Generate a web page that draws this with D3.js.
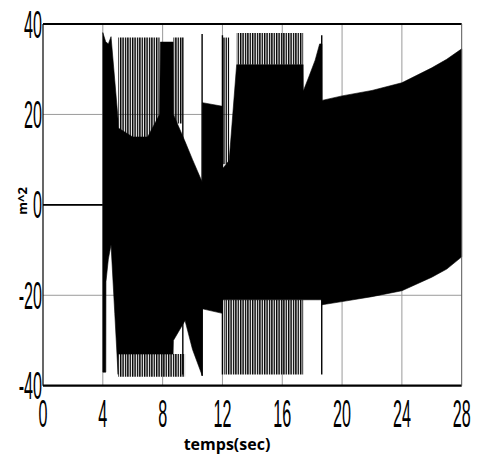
<!DOCTYPE html>
<html>
<head>
<meta charset="utf-8">
<script src="https://cdn.jsdelivr.net/npm/d3@7"></script>
<style>
  body { margin: 0; background: #fff; }
  svg { display: block; }
</style>
</head>
<body>
<svg id="chart" width="477" height="459"></svg>
<script>
// ticks
var xTicks = [0, 4, 8, 12, 16, 20, 24, 28];
var yTicks = [-40, -20, 0, 20, 40];

// signal before the start (flat at zero)
var flatT = [0, 4];
var flatV = [0, 0];

// dense oscillation envelope: time, top, bottom
var bodyT   = [4.00, 4.20, 4.21, 4.37, 4.55, 4.80, 5.02, 5.03, 6.00, 7.00, 7.80, 7.85, 8.70, 8.72, 9.50, 10.00, 10.65, 10.66, 12.00, 12.01, 12.45, 12.95, 17.40, 17.41, 17.80, 18.20, 18.50, 18.65, 18.66, 20.0, 22.0, 24.0, 26.0, 27.0, 28.0];
var bodyTop = [38.1, 36.0, 36.0, 35.6, 37.2, 27.5, 19.0, 17.0, 15.0, 15.0, 20.0, 36.0, 36.0, 20.0, 14.0, 10.0, 5.0, 22.6, 21.8, 8.0, 9.8, 31.0, 31.0, 25.2, 28.5, 32.0, 35.6, 35.6, 23.1, 24.1, 25.3, 27.0, 30.3, 32.2, 34.5];
var bodyBot = [-37.0, -37.0, -17.0, -12.0, -8.8, -24.0, -37.5, -33.0, -33.0, -33.0, -33.0, -33.0, -33.0, -30.0, -25.6, -32.0, -37.8, -23.0, -24.0, -21.0, -21.0, -21.0, -21.0, -21.0, -21.0, -21.0, -21.0, -21.0, -22.1, -21.4, -20.3, -19.0, -16.0, -14.2, -11.5];

// zones of thin spikes: start, end, base, tip
var zoneStart = [5.03, 8.72, 5.03, 12.05, 12.95, 12.10];
var zoneEnd   = [7.80, 9.30, 9.50, 12.45, 17.40, 17.40];
var zoneBase  = [15.0, 18.0, -33.0, 9.0, 31.0, -21.0];
var zoneTip   = [37.0, 37.0, -38.0, 37.0, 38.0, -37.5];

// single tall spikes: time, low, high
var spikeT  = [9.35, 10.64, 12.00, 18.64];
var spikeLo = [-37.5, -37.8, -37.5, -37.5];
var spikeHi = [37.0, 37.8, 37.5, 37.5];

var svg = d3.select('#chart');
var pL = 43, pR = 461.7, pT = 24, pB = 385.7;

var x = d3.scaleLinear().domain([0, 28]).range([pL, pR]);
var y = d3.scaleLinear().domain([-40, 40]).range([pB, pT]);

// stripe pattern for the spiky parts
var defs = svg.append('defs');
defs.append('pattern')
  .attr('id', 'spk')
  .attr('patternUnits', 'userSpaceOnUse')
  .attr('width', 2.4).attr('height', 10)
  .append('rect')
    .attr('x', 0).attr('y', 0)
    .attr('width', 1.4).attr('height', 10)
    .attr('fill', '#000');

//grid
svg.append('g').selectAll('line')
  .data(xTicks.slice(1, -1))
  .enter().append('line')
    .attr('x1', function(d){ return x(d); })
    .attr('x2', function(d){ return x(d); })
    .attr('y1', pT).attr('y2', pB)
    .attr('stroke', '#9a9a9a').attr('stroke-width', 1);

svg.append('g').selectAll('line')
  .data(yTicks.slice(1, -1))
  .enter().append('line')
    .attr('x1', pL).attr('x2', pR)
    .attr('y1', function(d){ return y(d); })
    .attr('y2', function(d){ return y(d); })
    .attr('stroke', '#9a9a9a').attr('stroke-width', 1);

// data
var body = bodyT.map(function(t, i){ return {t: t, top: bodyTop[i], bot: bodyBot[i]}; });
var area = d3.area()
  .x(function(d){ return x(d.t); })
  .y0(function(d){ return y(d.bot); })
  .y1(function(d){ return y(d.top); });

var zones = zoneStart.map(function(s, i){
  return [{t: s, top: zoneTip[i], bot: zoneBase[i]}, {t: zoneEnd[i], top: zoneTip[i], bot: zoneBase[i]}];
});
svg.append('g').selectAll('path')
  .data(zones)
  .enter().append('path')
    .attr('d', area)
    .attr('fill', 'url(#spk)');

svg.append('path')
  .datum(body)
  .attr('d', area)
  .attr('fill', '#000')
  .attr('stroke', '#000')
  .attr('stroke-width', 0.6);

svg.append('g').selectAll('line')
  .data(spikeT)
  .enter().append('line')
    .attr('x1', function(d){ return x(d); })
    .attr('x2', function(d){ return x(d); })
    .attr('y1', function(d, i){ return y(spikeLo[i]); })
    .attr('y2', function(d, i){ return y(spikeHi[i]); })
    .attr('stroke', '#000').attr('stroke-width', 1.4);

svg.append('path')
  .datum(flatT.map(function(t, i){ return [t, flatV[i]]; }))
  .attr('d', d3.line().x(function(d){ return x(d[0]); }).y(function(d){ return y(d[1]); }))
  .attr('fill', 'none')
  .attr('stroke', '#000')
  .attr('stroke-width', 1.6);

// box
svg.append('line').attr('x1', pL).attr('x2', pR).attr('y1', pT).attr('y2', pT)
  .attr('stroke', '#000').attr('stroke-width', 2.2);
svg.append('line').attr('x1', pL).attr('x2', pR).attr('y1', pB).attr('y2', pB)
  .attr('stroke', '#000').attr('stroke-width', 2.2);
svg.append('line').attr('x1', pL).attr('x2', pL).attr('y1', pT).attr('y2', pB)
  .attr('stroke', '#000').attr('stroke-width', 1.2);
svg.append('line').attr('x1', pR).attr('x2', pR).attr('y1', pT).attr('y2', pB)
  .attr('stroke', '#555').attr('stroke-width', 1);

// tick labels (tall condensed)
svg.append('g').selectAll('text')
  .data(xTicks)
  .enter().append('text')
    .attr('transform', function(d){ return 'translate(' + x(d) + ',427) scale(0.85,2)'; })
    .attr('text-anchor', 'middle')
    .attr('font-family', 'Liberation Sans, Arial, sans-serif')
    .attr('font-size', 19)
    .text(function(d){ return d; });

svg.append('g').selectAll('text')
  .data(yTicks)
  .enter().append('text')
    .attr('transform', function(d){ return 'translate(42,' + (y(d) + 13.6) + ') scale(0.85,2)'; })
    .attr('text-anchor', 'end')
    .attr('font-family', 'Liberation Sans, Arial, sans-serif')
    .attr('font-size', 19)
    .text(function(d){ return d; });

// axis titles
svg.append('text')
  .attr('x', 227).attr('y', 450)
  .attr('text-anchor', 'middle')
  .attr('font-family', 'Open Sans, sans-serif')
  .attr('font-weight', 'bold')
  .attr('font-size', 16)
  .text('temps(sec)');

svg.append('text')
  .attr('transform', 'translate(27,201) rotate(-90)')
  .attr('text-anchor', 'middle')
  .attr('font-family', 'Open Sans, sans-serif')
  .attr('font-weight', 'bold')
  .attr('font-size', 13)
  .text('m^2');
</script>
</body>
</html>
